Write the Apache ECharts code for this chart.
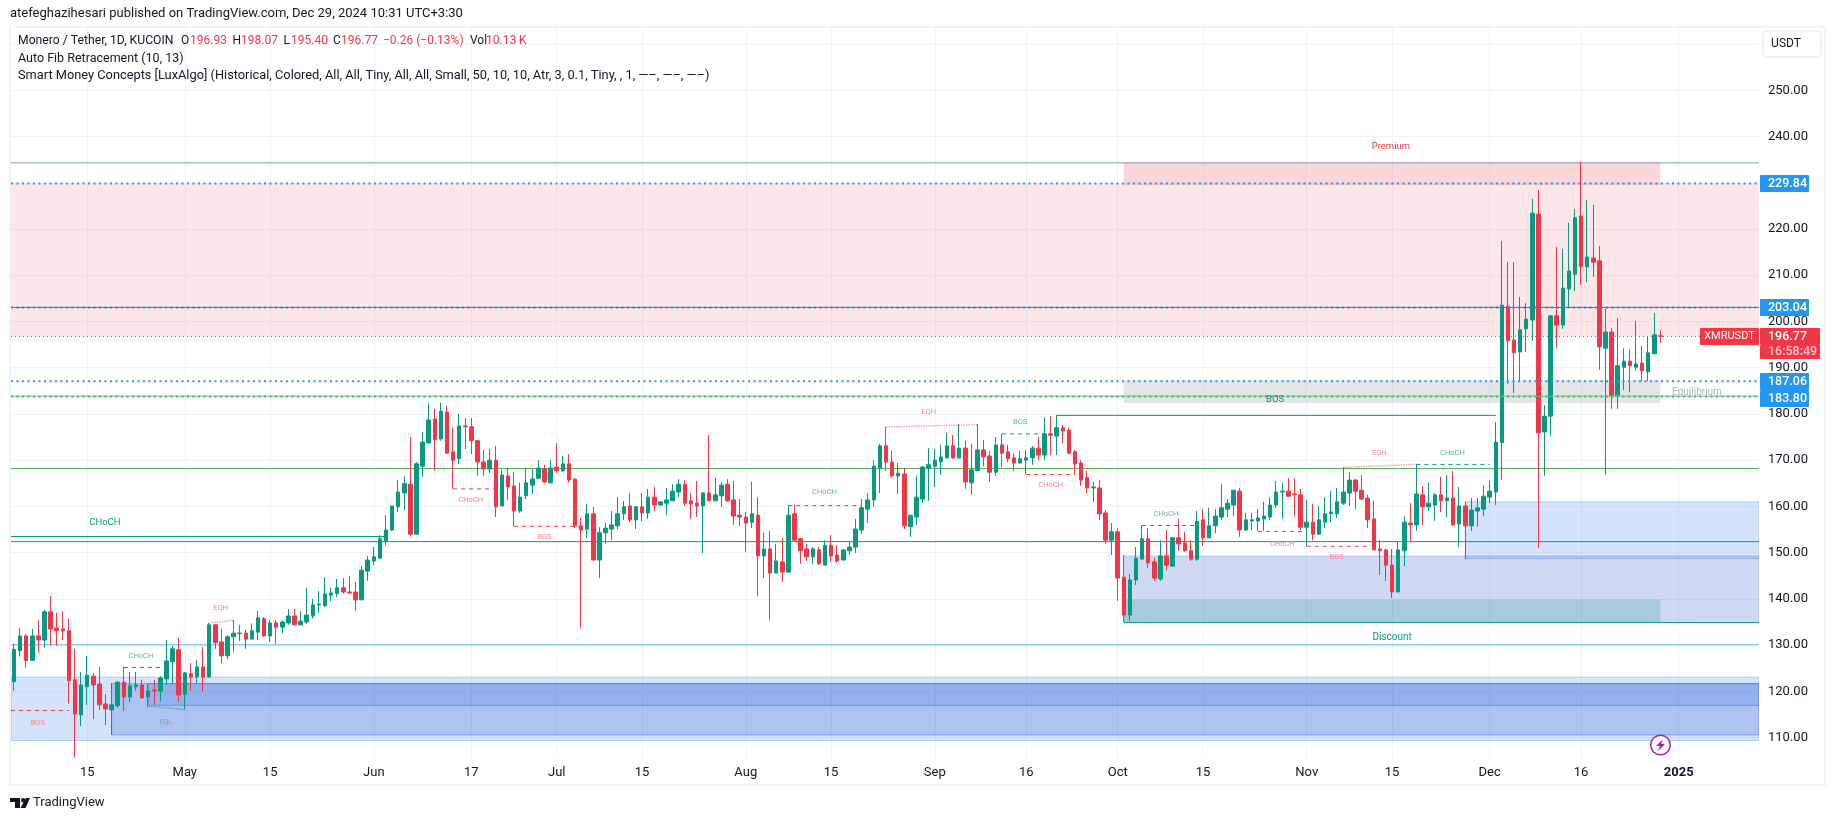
<!DOCTYPE html>
<html>
<head>
<meta charset="utf-8">
<title>XMRUSDT</title>
<style>
html,body{margin:0;padding:0;background:#fff}
#main{width:1835px;height:821px}
</style>
<script src="https://cdn.jsdelivr.net/npm/echarts@6/dist/echarts.min.js"></script>
</head>
<body>
<div id="main"></div>
<script>
// daily candles, first one is Apr 3 2024, last one Dec 29 2024
const opens = [
  121.9,128.6,131.8,126.5,131.8,130.9,137,133.5,133.3,132.9,
  122.3,114.7,120.8,123.1,121.4,117.1,115.8,116.7,121.8,118.6,
  120.8,121.2,118.6,120.1,119.9,122.5,126.2,128.8,119.2,123.6,
  122.9,125.1,122.9,134.2,130.5,127.5,131.6,132.3,132.4,131.1,
  132.6,135.5,131.8,134.6,133.7,134.6,136.1,134.2,134.8,136.1,
  138.5,138.3,140.6,140.9,142.2,141.3,141.3,139.6,145.8,148,
  148.6,152.3,154.7,159.7,162.7,164.6,153.8,168.5,173.5,178.7,
  174.4,180.2,171.6,170.1,177.2,177,174,169.4,167.9,169.8,
  159.9,166.4,164.2,158.8,162.1,164.4,165.9,167.9,164.9,168.3,
  167.5,169,165.7,155.6,154.9,158.2,148.2,154.1,154.9,155.6,
  158.2,159.9,156.9,159.7,158.4,161.8,160.1,160.5,161,162.9,
  164.6,161,160.5,159.9,162.7,161,162.1,164.6,161.2,157.9,
  157.5,156.4,157.9,149.1,150.6,145.4,147.8,145.6,158.2,152.8,
  150.6,148.9,150.4,147.1,151.4,149.3,148.2,150.2,151,154.7,
  159.2,161.2,168.1,172.9,169.4,166.4,166.8,155.4,157.5,161.4,
  168.1,168.5,169.4,170.3,172.9,170.3,172.4,164.9,167.5,172,
  170.7,167.2,173.1,171.6,170.3,169.2,169.8,170.3,172.4,170.9,
  175.5,175,176.8,176.3,171.6,169.2,166,163.8,163.8,158.4,
  152.5,154.3,144.5,136.3,143.9,148.4,152.8,147.8,144.1,149.1,
  146.9,153,151.9,150.2,148.4,156.9,153,155.6,157.5,159.2,
  160.1,163.1,154.7,156.65,156.65,157.1,157.5,160.1,162.9,163.1,
  162.5,162.3,155.3,156.4,153.8,156.4,158.2,158.2,160.5,162.7,
  165.5,163.3,161.6,157.1,150.6,150.4,147.1,141.3,150.2,156.2,
  155.8,162.3,159.7,160.1,162.3,161,161.6,156,159.9,155.6,
  158.8,159.2,161.8,162.9,173.6,203.1,195.8,193.2,198.2,200.1,
  223,175.9,179.3,201,199,206.8,210,222.6,211.6,213.5,
  212.9,194,197.5,183.7,189.9,191.2,189.9,190.8,188.9,192.8,196.93
]
const closes = [
  128.9,131.8,126.5,131.8,130.9,137,133.3,132.9,132.9,122.1,
  114.9,121.2,123.3,121.2,116.9,116,116.9,121.8,118.6,121,
  121.2,118.4,119.9,119.9,122.7,126.4,129,119,123.8,122.9,
  125.1,122.9,134.2,130.3,127.5,131.6,132.4,132.4,131.1,132.9,
  135.7,131.8,134.6,133.7,134.8,136.1,134.2,135,136.3,138.5,
  138.7,140.9,141.1,142.2,141.3,141.1,139.6,146,148.2,148.9,
  152.8,154.7,159.9,162.9,164.7,153.8,169,173.7,178.5,174.2,
  180.4,171.3,169.8,177.2,177,174,169.4,167.9,169.8,159.7,
  166.6,164,158.8,161.8,164.9,165.7,168.1,165.1,168.1,167.5,
  169,165.5,155.6,154.7,158.2,148.2,154.1,155.1,155.8,158.2,
  159.7,156.9,159.7,158.4,161.8,160.1,160.8,161.2,163.1,164.6,
  160.5,160.3,159.9,162.7,161,162.3,164.4,161,157.7,157.5,
  156.2,158.2,149.1,150.6,145.4,148,145.6,157.9,152.5,150.2,
  148.9,150.6,147.4,151.4,149.1,148,150.4,151,154.9,159.5,
  161.2,168.5,172.9,169.4,166.4,167,155.6,157.9,161.8,168.3,
  168.8,169.8,170.5,172.9,170.3,172.4,165.1,167.7,172,170.5,
  167.2,173.1,171.3,170.1,169.2,170.1,170.3,172.4,170.9,175.5,
  175.2,176.8,176.1,171.3,169,165.5,163.8,164,158.2,152.5,
  154.3,144.3,136.3,143.9,148.6,152.8,147.6,144.3,149.1,147.1,
  153,151.7,150.2,148.4,156.6,153,155.6,157.7,159.5,160.5,
  163.3,154.7,156.9,156.9,157.3,157.7,160.1,162.9,163.1,162,
  162.3,155.3,156.4,153.8,156.9,158.2,158.6,160.8,162.9,165.5,
  163.1,161.4,156.9,150.4,150.2,147.1,141.3,150.4,156.4,155.8,
  162.5,159.7,160.5,162.3,161,161.6,155.8,159.9,155.6,159,
  159.5,162,163.1,173.7,203.3,195.6,193,198,200.3,223.2,
  175.7,179.3,201,199,207,210.7,222.2,211.6,213.7,212.6,
  194.3,197.5,183.7,190.2,191.2,190.2,190.6,189.1,193,196.9,196.77
]
const lows = [
  120,127.3,124.9,126.5,128.2,129.3,129.8,129.6,130.9,117.2,
  105.5,112.3,116.9,113.8,115.8,112.5,110.4,116.2,115.6,117.5,
  119.9,118.2,116.4,116.9,117.7,121.2,121.6,117.5,115.9,119.9,
  121.6,119.7,122.9,129,125.9,126.8,128.3,130.7,129,131.1,
  130.9,131.6,130.5,130.1,132.4,134.2,134.2,134,134.4,135.5,
  136.8,138.1,139.3,140.2,140.9,140.9,137.2,139.6,143.7,147.1,
  148.6,151.3,154.5,158.6,159,153.4,153.8,166.2,173.5,167.5,
  174,171.3,163.6,169,172.2,171.1,166.4,166.4,167,157.5,
  159.9,161.2,155.5,158.4,161.4,162.5,165.7,164.9,164.9,167,
  167.2,164.9,155.1,133.5,153,148.2,144.3,151.7,152.5,154.9,
  156.9,156.4,154.9,156.6,157.1,158.8,159.9,157.9,161,161.8,
  159.9,157.1,157.5,149.7,161,161,159.7,160.8,155.8,155.6,
  150,155.1,140.4,144.3,135.2,145.4,143.5,145.4,152.3,147.4,
  148,147.4,147.1,147.1,147.8,147.6,148.2,149.3,149.7,153.8,
  156.2,159.7,162.7,167.5,166,162.5,154.9,153.2,155.8,160.5,
  161,164,166.6,170.1,170.1,170.1,163.6,162.3,167.5,168.5,
  165.1,166.4,168.3,169.4,167.5,169,166.8,168.8,169.8,169.8,
  170.9,170.9,173.5,171.1,166.6,164.2,162.7,160.8,156.9,151.7,
  149.3,139.4,134.8,135,142.8,148.4,146.5,143.7,143.7,146,
  146.7,150.2,150,148,148,151.2,153,154.05,156.9,157.5,
  157.7,153.2,154.5,154.7,154.5,154.5,156.9,159.5,157.1,161.8,
  157.7,154.7,151.2,152.5,153.6,155.1,156.4,157.3,160.1,159.9,
  159.2,161.2,155.1,150.4,145,143.7,140,141.3,146.9,152.3,
  154.5,155.8,158.8,156.65,158.6,157.5,155.6,151,148.4,154.5,
  155.4,157.7,160.5,160.1,165.5,186.3,184.3,187.1,193.2,195.6,
  150.8,166.4,175,194,198.2,202.9,206.4,207.7,208.3,209.4,
  189.3,166.6,180.9,180.9,185,184.5,189.1,186.9,186.9,192.8,195.4
]
const highs = [
  130.1,133.5,132.2,133.3,135.2,137.4,140.4,136.8,137.1,135.5,
  129,124,127.5,123.8,125.1,119.2,121.6,122,125.1,124,
  124,122.3,121.4,122.3,123.1,130.9,129.6,131.4,124,125.9,
  126.6,129.4,134.6,134.4,133.3,132,135.2,134.2,133.1,134.5,
  137.2,135.9,135.2,135.2,135.2,137.6,137.6,137.2,142.2,139.8,
  141.5,144.5,142.2,144.1,144.3,144.8,143.5,146.9,149.1,151,
  153.6,157.9,159.9,165.5,166.4,174.8,169.4,175.9,182,180.9,
  182.2,181.5,176.8,179.8,178.9,178.9,174.2,172,172.2,172.9,
  167.7,168.1,167.2,164.9,168.1,167.9,169.8,168.8,169.8,173.5,
  170.7,171.1,165.9,157.3,160.3,159.7,155.3,156.2,158.8,161.8,
  161,162.7,159.9,162.7,163.6,164,160.8,163.8,164.6,165.7,
  165.5,162.7,165.3,162.9,175.2,166,165.1,165.7,165.3,161.4,
  158.6,165.1,161.8,154.1,154.5,151.7,153,160.1,160.1,153,
  151.7,151,151,152.5,153.6,151.4,150.4,152.3,157.1,161.4,
  162.7,169.8,173.3,177,171.8,169.2,168.1,157.9,166.4,168.5,
  172.4,172.2,173.1,175.7,175.2,177.6,174,173.3,177.6,174.2,
  171.8,174.8,175.5,173.1,171.3,171.8,172,172.9,174.8,179.1,
  179.3,179.6,177.4,176.8,172,169.8,167.5,165.1,165.5,159,
  156.2,155.1,149.3,145.2,151,155.7,155.1,148.6,152.5,154.7,
  153,157.1,154.3,152.5,158.8,159.2,159.5,159.2,164.6,161.4,
  163.3,163.8,158.4,158.4,159.2,160.8,161.8,165.3,164.9,165.9,
  165.9,163.6,161.2,160.3,159.9,161.8,163.1,163.8,168.3,167.2,
  165.7,166.6,162.3,161,152.5,150.6,150.6,152.1,157.7,160.5,
  169,164.2,164.9,162.7,166.2,166.6,167.5,164,160.8,161.6,
  161.6,164.4,165.3,178.05,217.2,212.6,212.6,205.1,203.8,226.3,
  228.2,181.7,201.2,215.9,215.5,221.1,224.1,234.3,226,225,
  216.1,202.5,198.4,200.5,194,193.8,199.9,194.5,196.6,201.6,198.07
]
// my readings sit a hair low against the price scale, the last candle is exact (legend)
const readBias = 0.22

// time axis, index counted in days from Apr 3
const slotCount = 287
const tickIndex = [12, 28, 42, 59, 75, 89, 103, 120, 134, 151, 166, 181, 195, 212, 226, 242, 257, 273]
const tickText = ['15', 'May', '15', 'Jun', '17', 'Jul', '15', 'Aug', '15', 'Sep', '16', 'Oct', '15', 'Nov', '15', 'Dec', '16', '2025']

// zones: from slot, to slot, top price, bottom price, kind
const rightEdge = 286.7
const zones = [
  [0, rightEdge, 229.84, 196.77, 'fib'],
  [182.5, 270.5, 234.4, 229.5, 'premium'],
  [182.5, 270.5, 187.3, 182.4, 'equil'],
  [182.5, rightEdge, 149.3, 134.9, 'lilac'],
  [182.5, 270.5, 139.9, 134.9, 'teal'],
  [238.5, rightEdge, 161, 148.7, 'sky'],
  [0, rightEdge, 123.1, 109.4, 'sky'],
  [16.5, rightEdge, 121.7, 110.6, 'mid'],
  [22.5, rightEdge, 121.7, 117, 'deep']
]
const zoneColors = {
  fib: 'rgba(242,54,69,0.125)', premium: 'rgba(242,54,69,0.2)', equil: 'rgba(120,123,134,0.2)',
  lilac: 'rgba(20,65,200,0.2)', teal: 'rgba(8,145,130,0.2)', sky: 'rgba(45,115,245,0.2)',
  mid: 'rgba(22,69,190,0.2)', deep: 'rgba(35,108,225,0.2)'
}
const zoneBorders = {
  lilac: 'rgba(20,65,200,0.2)', sky: 'rgba(45,115,245,0.3)',
  mid: 'rgba(41,98,230,0.45)', deep: 'rgba(41,98,230,0.45)'
}

// levels and structure lines: from slot, price, to slot, price, kind
const levels = [
  [0, 234.3, rightEdge, 234.3, 'slate'],
  [0, 203.04, rightEdge, 203.04, 'redSolid'],
  [0, 196.77, rightEdge, 196.77, 'last'],
  [0, 229.84, rightEdge, 229.84, 'fib'],
  [0, 203.04, rightEdge, 203.04, 'fib'],
  [0, 187.06, rightEdge, 187.06, 'fib'],
  [0, 183.8, rightEdge, 183.8, 'fib'],
  [0, 183.85, rightEdge, 183.85, 'greenThin'],
  [0, 168.2, rightEdge, 168.2, 'green'],
  [0, 153.5, 61.5, 153.5, 'tealSolid'],
  [0, 152.4, rightEdge, 152.4, 'tealSolid'],
  [182.5, 134.9, rightEdge, 134.9, 'tealSolid'],
  [171.5, 179.7, 243.5, 179.7, 'tealSolid'],
  [0, 130.1, rightEdge, 130.1, 'sky'],
  [0, 115.9, 9.5, 115.9, 'redDash'],
  [18.5, 125.2, 25.5, 125.2, 'tealDash'],
  [72.5, 163.8, 79.5, 163.8, 'redDash'],
  [82.5, 155.7, 93.5, 155.7, 'redDash'],
  [127.5, 160.2, 139.5, 160.2, 'tealDash'],
  [162.5, 175.7, 169.5, 175.7, 'tealDash'],
  [166.5, 166.9, 174.5, 166.9, 'redDash'],
  [185.5, 155.9, 194.5, 155.9, 'tealDash'],
  [204.5, 154.6, 212.5, 154.6, 'redDash'],
  [212.5, 151.4, 222.5, 151.4, 'redDash'],
  [230.5, 169.1, 242.5, 169.1, 'tealDash'],
  [22.5, 116.8, 28.5, 116.1, 'tealDot'],
  [32.5, 134.8, 36.5, 135.4, 'redDot'],
  [143.5, 177.2, 158.5, 177.7, 'redDot'],
  [218.5, 168.45, 230.5, 169.1, 'redDot']
]
const lineStyles = {
  slate: {color: '#7f97c6', width: 1, type: 'solid', z: 3},
  redSolid: {color: '#f23645', width: 1, type: 'solid', z: 8},
  last: {color: '#f23645', width: 1, type: [1, 3], z: 3},
  fib: {color: '#2196f3', width: 2, type: [2, 3.5], z: 7},
  greenThin: {color: '#6cc070', width: 1, type: 'solid', z: 8},
  green: {color: '#4caf50', width: 1, type: 'solid', z: 3},
  tealSolid: {color: '#089981', width: 1, type: 'solid', z: 3},
  sky: {color: '#64b5f6', width: 1, type: 'solid', z: 3},
  redDash: {color: '#f23645', width: 1, type: [4, 4], z: 3},
  tealDash: {color: '#089981', width: 1, type: [4, 4], z: 3},
  tealDot: {color: '#5fb0b5', width: 1.5, type: [1.5, 1], z: 3},
  redDot: {color: '#f9a2a9', width: 1.5, type: [1.5, 1], z: 3}
}

// text on the chart: text, slot, price, kind
const marks = [
  ['BOS', 4.4, 113.2, 'redTiny'], ['CHoCH', 21.3, 127.7, 'tealTiny'], ['EQL', 25.4, 113.45, 'tealTiny'],
  ['EQH', 34.4, 138.1, 'redTiny'], ['CHoCH', 75.4, 161.45, 'redTiny'], ['BOS', 87.5, 153.3, 'redTiny'],
  ['CHoCH', 133.4, 163, 'tealTiny'], ['EQH', 150.5, 180.5, 'redTiny'], ['BOS', 165.5, 178.3, 'tealTiny'],
  ['CHoCH', 170.5, 164.6, 'redTiny'], ['CHoCH', 189.4, 158.4, 'tealTiny'], ['CHoCH', 208.5, 151.9, 'redTiny'],
  ['BOS', 217.4, 149, 'redTiny'], ['EQH', 224.4, 171.6, 'redTiny'], ['CHoCH', 236.4, 171.6, 'tealTiny'],
  ['BOS', 207.3, 183.2, 'tealBig'], ['CHoCH', 15.4, 156.6, 'tealBig'], ['Discount', 226.5, 131.6, 'tealWide'],
  ['Premium', 226.3, 237.8, 'redBig'], ['Equilibrium', 276.5, 184.7, 'grayBig']
]
const markStyles = {
  redTiny: {fill: '#f7858e', font: '7.5px Roboto'},
  tealTiny: {fill: '#55b8a4', font: '7.5px Roboto'},
  tealBig: {fill: '#089981', font: '9.5px Roboto'},
  tealWide: {fill: '#089981', font: '10px Roboto'},
  redBig: {fill: '#f23645', font: '9.5px Roboto'},
  grayBig: {fill: '#b2b5be', font: '10px Roboto'}
}

const ink = '#131722'
const red = '#f23645'
// header: text, x, y, color, font size
const header = [
  ['atefeghazihesari published on TradingView.com, Dec 29, 2024 10:31 UTC+3:30', 10, 14, ink, 13],
  ['Monero / Tether, 1D, KUCOIN', 18, 41, ink, 12.2],
  ['O', 181, 41, ink, 12], ['196.93', 190, 41, red, 12],
  ['H', 232.5, 41, ink, 12], ['198.07', 241, 41, red, 12],
  ['L', 283.5, 41, ink, 12], ['195.40', 291, 41, red, 12],
  ['C', 333, 41, ink, 12], ['196.77', 341, 41, red, 12],
  ['\u22120.26 (\u22120.13%)', 383, 41, red, 12],
  ['Vol', 470, 41, ink, 12], ['10.13 K', 486, 41, red, 12],
  ['Auto Fib Retracement (10, 13)', 18, 59, ink, 12.5],
  ['Smart Money Concepts [LuxAlgo] (Historical, Colored, All, All, Tiny, All, All, Small, 50, 10, 10, Atr, 3, 0.1, Tiny, , 1, \u2014\u2013, \u2014\u2013, \u2014\u2013)', 18, 76, ink, 12.8]
]

// price tags on the right side: text, x, y, width, height, fill, text color
const blue = '#2196f3'
const tags = [
  ['229.84', 1760, 175, 49, 17, blue, '#fff'],
  ['203.04', 1760, 299, 49, 17, blue, '#fff'],
  ['187.06', 1760, 373, 49, 17, blue, '#fff'],
  ['183.80', 1760, 390, 49, 17, blue, '#fff'],
  ['196.77', 1760, 328, 60, 17, red, '#fff'],
  ['16:58:49', 1760, 345, 60, 14, red, '#fcc5c9']
]

let categories = []
let day = new Date(Date.UTC(2024, 3, 3))
for (let i = 0; i < slotCount; i++) {
  categories.push(day.toISOString().slice(0, 10))
  day.setUTCDate(day.getUTCDate() + 1)
}
const tickAt = (idx) => tickIndex.indexOf(idx) >= 0

let candleData = opens.map((o, i) => {
  const b = i === opens.length - 1 ? 0 : readBias
  return [o + b, closes[i] + b, lows[i] + b, highs[i] + b]
})

let chart = echarts.init(document.getElementById('main'))

let series = [
  {
    type: 'custom',
    xAxisIndex: 1,
    z: 1,
    silent: true,
    animation: false,
    encode: {x: 0, y: 2},
    data: zones.map(z => z.slice(0, 4)),
    renderItem: function (params, api) {
      const z = zones[params.dataIndex]
      const a = api.coord([z[0], z[2]])
      const b = api.coord([z[1], z[3]])
      return {
        type: 'rect',
        shape: {x: a[0], y: a[1], width: b[0] - a[0], height: b[1] - a[1]},
        style: {fill: zoneColors[z[4]], stroke: zoneBorders[z[4]] || 'none', lineWidth: 1}
      }
    }
  },
  {
    name: 'XMRUSDT',
    type: 'candlestick',
    z: 5,
    silent: true,
    animation: false,
    barWidth: 4,
    data: candleData,
    itemStyle: {color: '#089981', color0: '#f23645', borderColor: '#089981', borderColor0: '#f23645', borderWidth: 1}
  },
  {
    type: 'custom',
    xAxisIndex: 1,
    z: 9,
    silent: true,
    animation: false,
    encode: {x: 1, y: 2},
    data: marks.map(m => [m[0], m[1], m[2]]),
    renderItem: function (params, api) {
      const m = marks[params.dataIndex]
      const p = api.coord([m[1], m[2]])
      const st = markStyles[m[3]]
      return {
        type: 'text',
        style: {text: m[0], x: p[0], y: p[1], align: 'center', verticalAlign: 'middle', fill: st.fill, font: st.font}
      }
    }
  }
]
levels.forEach(l => {
  const st = lineStyles[l[4]]
  series.push({
    type: 'line',
    xAxisIndex: 1,
    z: st.z,
    silent: true,
    animation: false,
    showSymbol: false,
    lineStyle: {color: st.color, width: st.width, type: st.type},
    data: [[l[0], l[1]], [l[2], l[3]]]
  })
})

let graphic = [
  {type: 'rect', z: 100, shape: {x: 1759, y: 28, width: 3, height: 731}, style: {fill: '#fff'}},
  {type: 'rect', z: 100, shape: {x: 10, y: 27, width: 1815, height: 758}, style: {fill: 'none', stroke: '#f0f3fa', lineWidth: 2}},
  {type: 'rect', z: 101, shape: {x: 1763, y: 31, width: 58, height: 26, r: 4}, style: {fill: '#fff', stroke: '#e0e3eb', lineWidth: 1}},
  {type: 'text', z: 102, style: {text: 'USDT', x: 1786, y: 44, align: 'center', verticalAlign: 'middle', fill: ink, font: '12px Roboto'}},
  // lightning mark
  {type: 'circle', z: 102, shape: {cx: 1660.5, cy: 745, r: 9.8}, style: {fill: '#fff', stroke: '#9c27b0', lineWidth: 1.5}},
  {type: 'polygon', z: 103, shape: {points: [[1663, 739], [1656, 746], [1660, 746], [1658, 751], [1665, 744], [1661, 744]]}, style: {fill: '#9c27b0'}},
  // TradingView logo
  {type: 'polygon', z: 102, shape: {points: [[10, 798], [20, 798], [20, 808], [15, 808], [15, 802], [10, 802]]}, style: {fill: ink}},
  {type: 'circle', z: 102, shape: {cx: 23.2, cy: 800.2, r: 2.2}, style: {fill: ink}},
  {type: 'polygon', z: 102, shape: {points: [[26, 798], [30, 798], [25.5, 808], [20.5, 808]]}, style: {fill: ink}},
  {type: 'text', z: 102, style: {text: 'TradingView', x: 33, y: 803, verticalAlign: 'middle', fill: ink, font: '13px Roboto'}},
  // symbol tag next to the last price
  {type: 'rect', z: 104, shape: {x: 1700, y: 328, width: 59, height: 17, r: 1}, style: {fill: red}},
  {type: 'text', z: 105, style: {text: 'XMRUSDT', x: 1729.5, y: 336.5, align: 'center', verticalAlign: 'middle', fill: '#fff', font: '11px Roboto'}}
]
header.forEach(h => {
  graphic.push({type: 'text', z: 102, style: {text: h[0], x: h[1], y: h[2], verticalAlign: 'middle', fill: h[3], font: h[4] + 'px Roboto'}})
})
tags.forEach(t => {
  graphic.push({type: 'rect', z: 104, shape: {x: t[1], y: t[2], width: t[3], height: t[4], r: 1}, style: {fill: t[5]}})
  graphic.push({type: 'text', z: 105, style: {text: t[0], x: t[1] + 8, y: t[2] + t[4] / 2, verticalAlign: 'middle', fill: t[6], font: '500 12.5px Roboto'}})
})

chart.setOption({
  animation: false,
  backgroundColor: '#fff',
  grid: {left: 11, top: 28, width: 1750, height: 730, containLabel: false},
  xAxis: [
    {
      type: 'category',
      data: categories,
      axisLine: {show: false},
      axisTick: {show: false},
      splitLine: {show: true, alignWithLabel: true, interval: (idx) => tickAt(idx), lineStyle: {color: '#f0f3fa', width: 1}},
      axisLabel: {
        interval: (idx) => tickAt(idx),
        margin: 8,
        color: ink,
        fontFamily: 'Roboto',
        fontSize: 13,
        formatter: function (value, idx) {
          const t = tickText[tickIndex.indexOf(idx)]
          return t === '2025' ? '{b|2025}' : t
        },
        rich: {b: {fontWeight: 'bold', fontFamily: 'Roboto', fontSize: 13, color: ink}}
      }
    },
    {type: 'value', min: 0, max: slotCount, show: false}
  ],
  yAxis: {
    type: 'value',
    position: 'right',
    min: 105.62,
    max: 263.46,
    splitNumber: 16,
    scale: true,
    axisLine: {show: false},
    axisTick: {show: false},
    splitLine: {show: true, showMinLine: false, showMaxLine: false, lineStyle: {color: '#f0f3fa', width: 1}},
    axisLabel: {
      showMinLabel: false,
      showMaxLabel: false,
      margin: 7,
      color: ink,
      fontFamily: 'Roboto',
      fontSize: 13,
      formatter: (v) => v.toFixed(2)
    }
  },
  graphic: graphic,
  series: series
})
</script>
</body>
</html>
